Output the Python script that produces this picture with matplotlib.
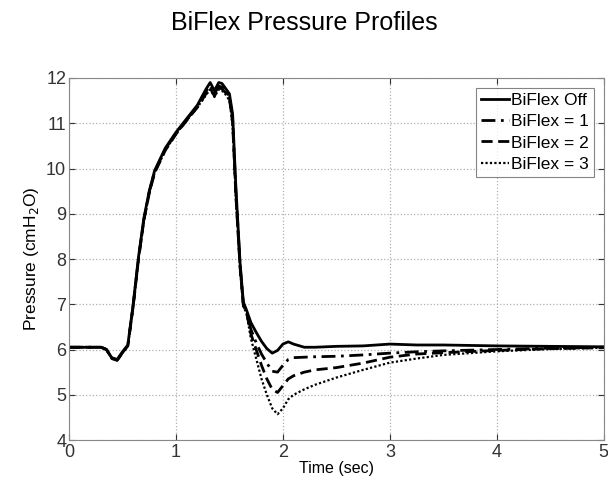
import matplotlib
matplotlib.use("Agg")
import matplotlib.pyplot as plt

# time axis (sec), shared by all four profiles
time_s = [0, 0.1, 0.2, 0.3, 0.35, 0.4, 0.45, 0.5, 0.55, 0.6, 0.65, 0.7, 0.75, 0.8,
          0.9, 1.0, 1.1, 1.2, 1.28, 1.32, 1.36, 1.4, 1.43, 1.47, 1.5, 1.53, 1.56,
          1.6, 1.63, 1.66, 1.7, 1.75, 1.8, 1.85, 1.9, 1.95, 2.0, 2.05, 2.1, 2.2,
          2.3, 2.5, 2.75, 3.0, 3.25, 3.5, 4.0, 4.5, 5.0]

biflex_off = [6.05, 6.05, 6.05, 6.05, 6.0, 5.82, 5.78, 5.95, 6.1, 7.0, 8.05, 8.9,
              9.5, 9.95, 10.45, 10.8, 11.1, 11.4, 11.75, 11.9, 11.72, 11.9, 11.88,
              11.75, 11.65, 11.2, 9.6, 7.9, 7.05, 6.87, 6.6, 6.38, 6.18, 6.02, 5.92,
              5.98, 6.12, 6.17, 6.12, 6.05, 6.05, 6.07, 6.08, 6.12, 6.1, 6.1, 6.08,
              6.07, 6.06]
biflex_1 = [6.05, 6.05, 6.05, 6.05, 6.0, 5.8, 5.76, 5.93, 6.08, 6.98, 8.02, 8.87,
            9.48, 9.93, 10.43, 10.78, 11.08, 11.38, 11.7, 11.83, 11.65, 11.82, 11.8,
            11.7, 11.6, 11.1, 9.5, 7.85, 7.0, 6.85, 6.45, 6.15, 5.9, 5.7, 5.52,
            5.5, 5.65, 5.78, 5.82, 5.83, 5.84, 5.85, 5.88, 5.92, 5.95, 5.97, 6.0,
            6.03, 6.05]
biflex_2 = [6.05, 6.05, 6.05, 6.05, 6.0, 5.8, 5.76, 5.93, 6.08, 6.95, 8.0, 8.85,
            9.45, 9.9, 10.4, 10.76, 11.06, 11.35, 11.65, 11.78, 11.6, 11.78, 11.76,
            11.66, 11.55, 11.0, 9.4, 7.8, 6.98, 6.82, 6.35, 6.0, 5.65, 5.35, 5.12,
            5.05, 5.2, 5.35, 5.42, 5.5, 5.55, 5.6, 5.7, 5.83, 5.9, 5.93, 5.98,
            6.02, 6.04]
biflex_3 = [6.05, 6.05, 6.05, 6.05, 6.0, 5.8, 5.76, 5.93, 6.08, 6.95, 8.0, 8.85,
            9.45, 9.9, 10.4, 10.76, 11.06, 11.35, 11.62, 11.75, 11.58, 11.75, 11.72,
            11.62, 11.5, 10.95, 9.35, 7.75, 6.95, 6.8, 6.25, 5.8, 5.35, 5.0, 4.7,
            4.57, 4.7, 4.9, 5.0, 5.12, 5.22, 5.38, 5.55, 5.71, 5.8, 5.88, 5.96,
            6.01, 6.04]

labels = ["BiFlex Off", "BiFlex = 1", "BiFlex = 2", "BiFlex = 3"]
x_ticks = [0, 1, 2, 3, 4, 5]
y_ticks = [4, 5, 6, 7, 8, 9, 10, 11, 12]

plt.rcParams['font.family'] = ['Liberation Sans', 'DejaVu Sans']

fig = plt.figure(figsize=(6.08, 4.8), dpi=100)
ax = fig.add_axes([0.1135, 0.0833, 0.8795, 0.7542])

ax.plot(time_s, biflex_off, color='black', lw=2.0, ls='-', label=labels[0])
ax.plot(time_s, biflex_1, color='black', lw=2.0, ls=(0, (5, 2, 1, 2)), label=labels[1])
ax.plot(time_s, biflex_2, color='black', lw=2.0, ls=(0, (4, 2)), label=labels[2])
ax.plot(time_s, biflex_3, color='black', lw=1.6, ls=(0, (1, 1)), label=labels[3])

ax.set_xlim(0, 5)
ax.set_ylim(4, 12)
ax.set_xticks(x_ticks)
ax.set_yticks(y_ticks)
ax.tick_params(direction='in', top=True, right=True, labelsize=13, colors='#333333',
               length=4)
ax.tick_params(axis='x', pad=3)
ax.tick_params(axis='y', pad=2)
ax.grid(True, ls=':', color='#b0b0b0', lw=0.9)
for s in ax.spines.values():
    s.set_color('#888888')

ax.set_xlabel("Time (sec)", fontsize=11.5, labelpad=0)
ax.set_ylabel("Pressure (cmH$_2$O)", fontsize=12.5, labelpad=4)
fig.text(0.5, 0.952, "BiFlex Pressure Profiles", ha='center', va='center', fontsize=18)

leg = ax.legend(loc='upper right', fontsize=12.5, frameon=True, fancybox=False,
                handlelength=1.6, handletextpad=0.1, borderpad=0.3, labelspacing=0.34,
                borderaxespad=0.58)
leg.get_frame().set_edgecolor('#666666')
leg.get_frame().set_linewidth(0.8)

fig.savefig("out.png", dpi=100)
